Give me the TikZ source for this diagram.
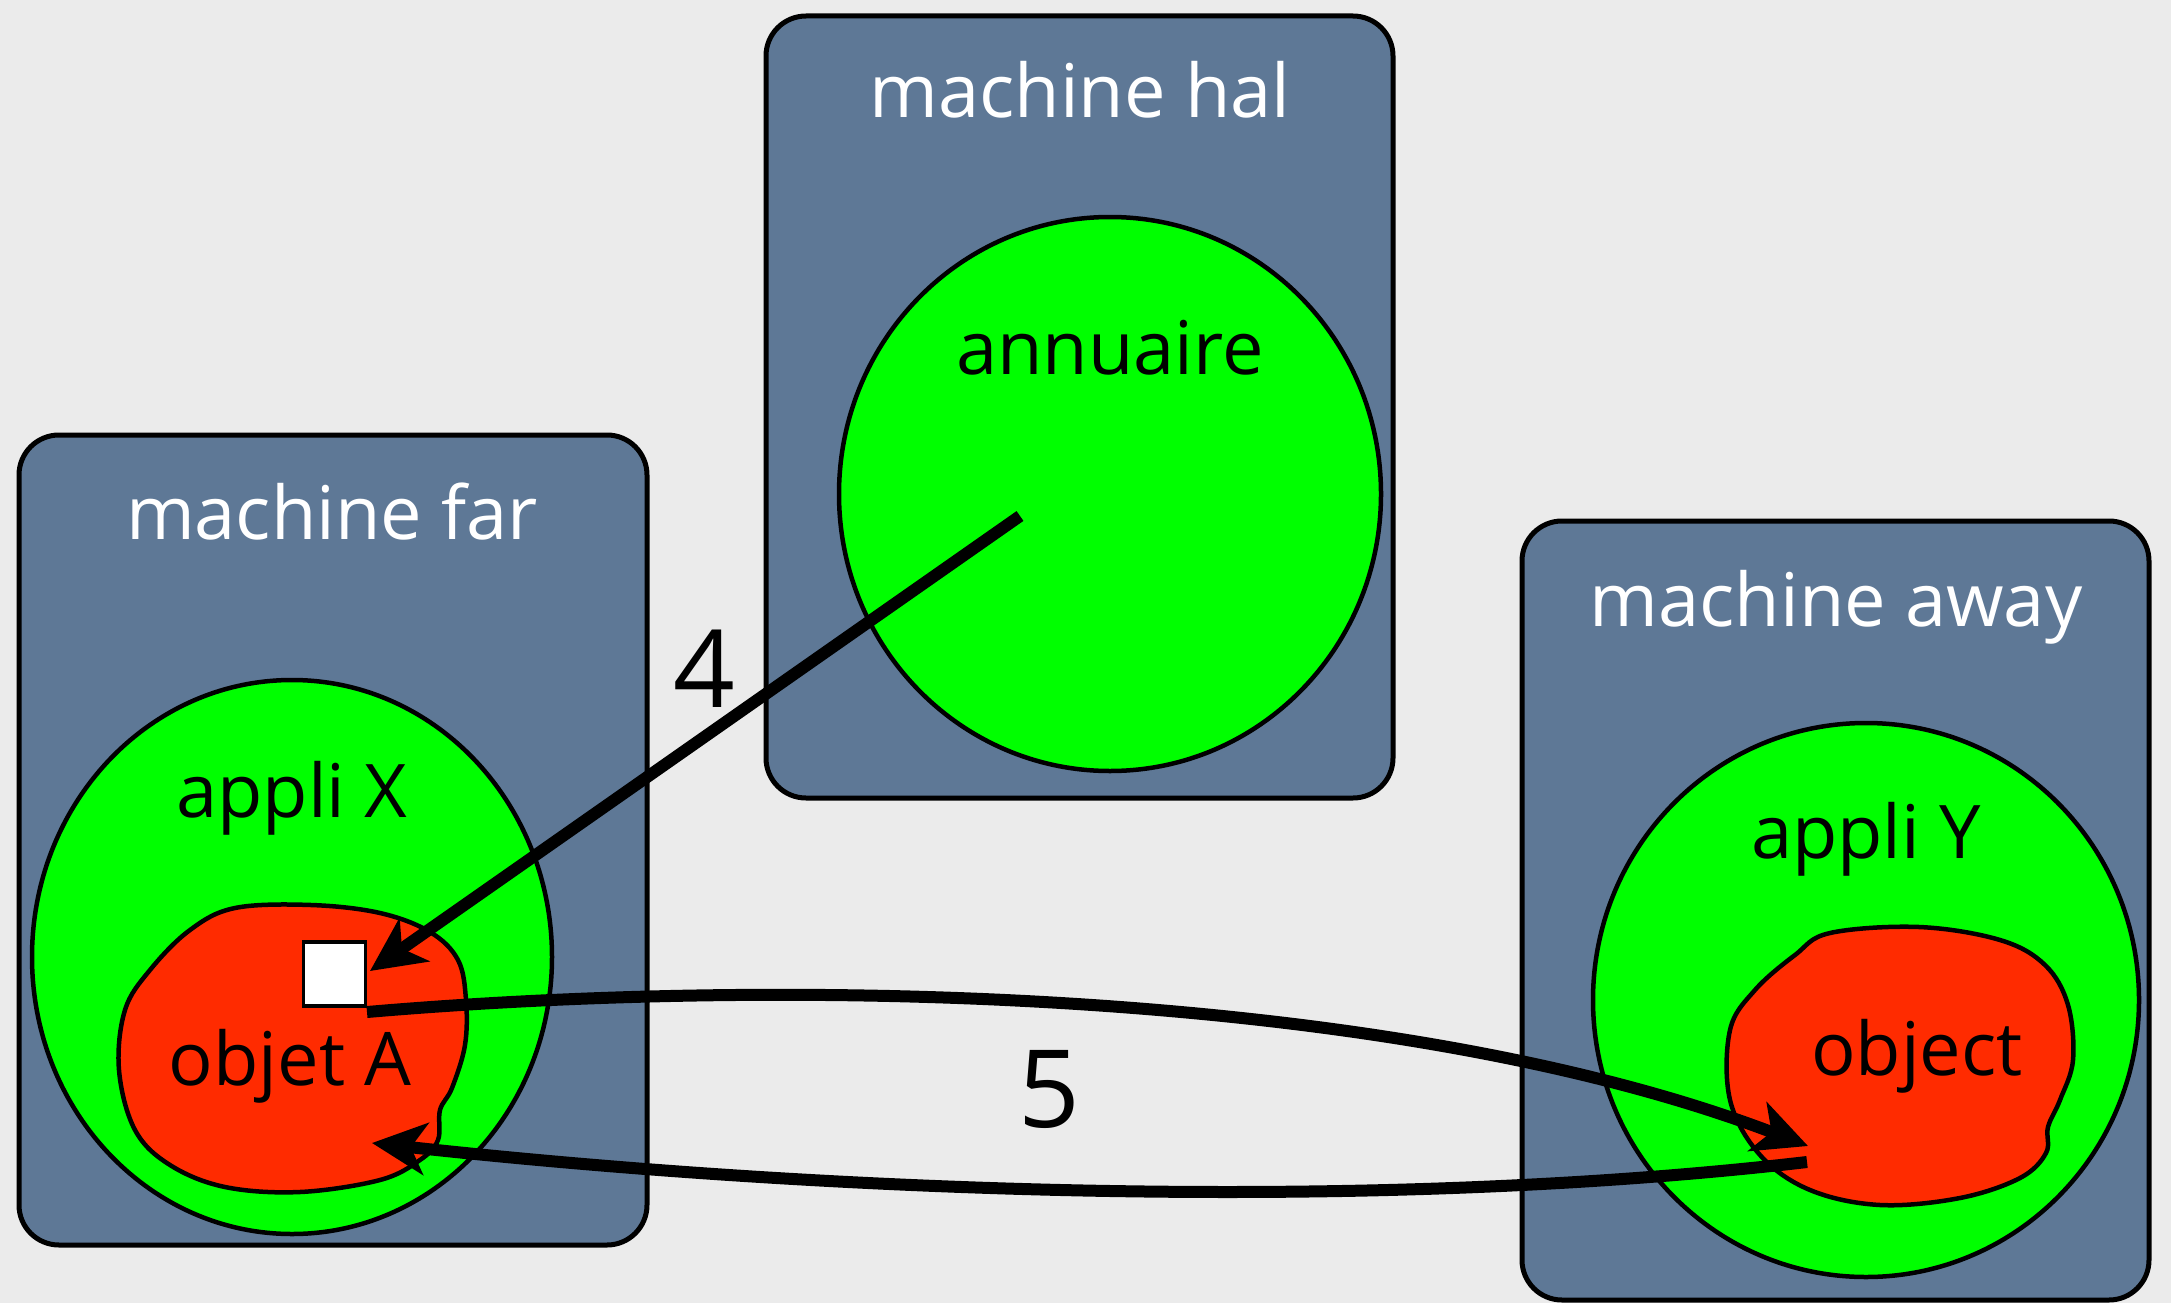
\documentclass[tikz,border=0pt]{standalone}
\usepackage{fontspec}
\setmainfont{Open Sans}
\usetikzlibrary{arrows.meta,shapes.geometric}
\definecolor{bg}{HTML}{EBEBEB}
\definecolor{slate}{HTML}{5E7896}
\definecolor{lgreen}{HTML}{00FF00}
\definecolor{ored}{HTML}{FF2B00}
\begin{document}
\begin{tikzpicture}[x=1pt,y=-1pt,
  machinebox/.style={draw=black, line width=5pt, fill=slate, rounded corners=40pt, rectangle, inner sep=0pt},
  appli/.style={draw=black, line width=4.5pt, fill=lgreen, ellipse, inner sep=0pt},
  blob/.style={draw=black, line width=4.5pt, fill=ored},
  ref/.style={draw=black, line width=3.5pt, fill=white, rectangle, inner sep=0pt, minimum width=62pt, minimum height=64pt},
  arr/.style={draw=black, line width=12pt, -{Stealth[length=54pt, width=52pt, inset=15pt]}},
  lbl/.style={font=\fontsize{74}{80}\selectfont, anchor=base, inner sep=0pt},
  wlbl/.style={lbl, text=white},
  blbl/.style={lbl, text=black},
  num/.style={font=\fontsize{108}{110}\selectfont, anchor=base, inner sep=0pt, text=black}
]
\useasboundingbox (0,0) rectangle (2171,1303);
\fill[bg] (0,0) rectangle (2171,1303);

% machines
\node[machinebox, minimum width=628pt, minimum height=810pt] (far) at (333,840) {};
\node[machinebox, minimum width=627pt, minimum height=782pt] (hal) at (1079.5,407) {};
\node[machinebox, minimum width=627pt, minimum height=779pt] (away) at (1835.5,910.5) {};

% applications
\node[appli, minimum width=542pt, minimum height=554pt] (annuaire) at (1110,494) {};
\node[appli, minimum width=520pt, minimum height=554pt] (applix) at (292,957) {};
\node[appli, minimum width=546pt, minimum height=554pt] (appliy) at (1866,1000) {};

% objects
\draw[blob] plot[smooth cycle, tension=0.6] coordinates {
 (235,908) (311,905) (380,913) (430,932) (458,960) (466,1000) (465,1045)
 (452,1088) (440,1110) (438,1140) (420,1160) (380,1180) (300,1192) (225,1187)
 (170,1165) (135,1130) (119,1070) (125,1010) (150,970) (190,930)};
\draw[blob] plot[smooth cycle, tension=0.6] coordinates {
 (1830,933) (1919,927) (2000,940) (2045,965) (2068,1005) (2073,1060) (2060,1100)
 (2048,1127) (2046,1153) (2020,1178) (1960,1198) (1880,1205) (1810,1190)
 (1760,1155) (1730,1100) (1730,1030) (1755,990) (1795,955)};

\node[ref] (sq) at (334.5,974) {};

% labels
\node[wlbl] (lhal) at (1080,118) {machine hal};
\node[wlbl] (lfar) at (332,539) {machine far};
\node[wlbl] (laway) at (1836,626) {machine away};
\node[blbl] (lann) at (1110,374) {annuaire};
\node[blbl] (lax) at (292,817) {appli X};
\node[blbl] (lay) at (1866,858) {appli Y};
\node[blbl] (loa) at (290,1085) {objet A};
\node[blbl] (lob) at (1917,1075) {object};

% arrows
\coordinate (a4s) at (1020,516);
\coordinate (a4e) at (370,971);
\draw[arr] (a4s) -- (a4e);
\coordinate (a5s) at (367,1012);
\coordinate (a5e) at (1808,1146);
\draw[arr] (a5s) .. controls (800,975) and (1400,990) .. (a5e);
\coordinate (a6s) at (1807,1162);
\coordinate (a6e) at (372,1143);
\draw[arr] (a6s) .. controls (1350,1215) and (800,1190) .. (a6e);

\node[num] (n4) at (704,707) {4};
\node[num] (n5) at (1049,1127) {5};
\end{tikzpicture}
\end{document}
